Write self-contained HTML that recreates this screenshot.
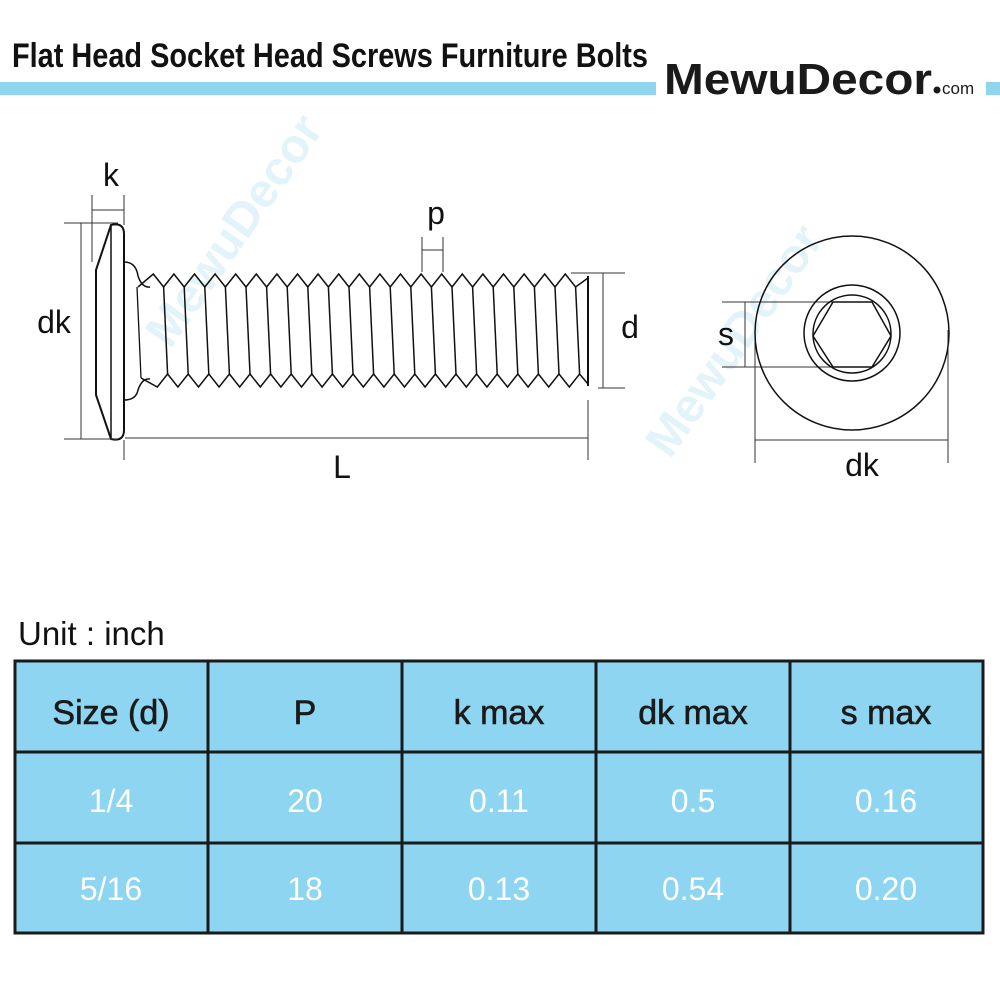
<!DOCTYPE html>
<html><head><meta charset="utf-8"><style>
body{margin:0;background:#fff;}
svg{display:block;}
</style></head><body>
<svg id="s" width="1000" height="1000" viewBox="0 0 1000 1000" xmlns="http://www.w3.org/2000/svg">
<rect width="1000" height="1000" fill="#fff"/>
<rect x="0" y="82" width="656" height="13" fill="#8fd5ef"/>
<rect x="986" y="82" width="14" height="13" fill="#8fd5ef"/>
<text x="12" y="67" font-family="Liberation Sans, sans-serif" font-weight="bold" font-size="34" fill="#111" textLength="636" lengthAdjust="spacingAndGlyphs">Flat Head Socket Head Screws Furniture Bolts</text>
<text x="664" y="94" font-family="Liberation Sans, sans-serif" font-weight="bold" font-size="44" fill="#1a1a1a" textLength="268" lengthAdjust="spacingAndGlyphs">MewuDecor</text>
<circle cx="937" cy="90" r="3.5" fill="#1a1a1a"/>
<text x="942" y="94" font-family="Liberation Sans, sans-serif" font-size="17" fill="#1a1a1a">com</text>

<g font-family="Liberation Sans, sans-serif" font-weight="bold" font-size="48" fill="#e3f3fa">
<text x="170" y="350" transform="rotate(-55 170 350)">MewuDecor</text>
<text x="670" y="460" transform="rotate(-55 670 460)">MewuDecor</text>
</g>

<g fill="none" stroke="#111" stroke-width="1.3">
<path d="M111 225 Q124 222 124 234 L124 430 Q124 442 111 439 L96 395 L96 270 Z" stroke-width="2"/>
<line x1="111" y1="226" x2="111" y2="438" stroke-width="1.5"/>
<path d="M124 262 Q136 262 138 276 Q142 288 150 287" stroke-width="1.5"/>
<path d="M124 400 Q136 400 138 390 Q142 378 150 379" stroke-width="1.5"/>
<line x1="137" y1="287" x2="141" y2="378" stroke-width="1.3"/>
<g id="thr" stroke-width="1.5"></g>
<line x1="588" y1="276" x2="588" y2="386" stroke-width="2"/>
</g>
<g stroke="#333" stroke-width="1" fill="none">
<line x1="64" y1="223" x2="118" y2="223"/>
<line x1="64" y1="439" x2="118" y2="439"/>
<line x1="81" y1="223" x2="81" y2="439"/>
<line x1="92" y1="195" x2="92" y2="262"/>
<line x1="124" y1="195" x2="124" y2="225"/>
<line x1="92" y1="210" x2="124" y2="210"/>
<line x1="422" y1="237" x2="422" y2="272"/>
<line x1="443" y1="237" x2="443" y2="272"/>
<line x1="422" y1="250" x2="443" y2="250"/>
<line x1="571" y1="273" x2="625" y2="273"/>
<line x1="598" y1="388" x2="625" y2="388"/>
<line x1="603" y1="273" x2="603" y2="388"/>
<line x1="125" y1="438" x2="588" y2="438"/>
<line x1="124" y1="440" x2="124" y2="460"/>
<line x1="588" y1="400" x2="588" y2="460"/>
<line x1="722" y1="302" x2="852" y2="302"/>
<line x1="722" y1="367" x2="852" y2="367"/>
<line x1="745" y1="302" x2="745" y2="367"/>
<line x1="755" y1="330" x2="755" y2="463"/>
<line x1="948" y1="330" x2="948" y2="463"/>
<line x1="755" y1="440" x2="948" y2="440"/>
</g>
<g fill="none" stroke="#111" stroke-width="1.5">
<circle cx="852" cy="333" r="97"/>
<circle cx="852" cy="333" r="48"/>
<circle cx="852" cy="334" r="39"/>
<polygon points="813,336 833,302 872,302 891,336 872,367 833,367"/>
</g>
<g font-family="Liberation Sans, sans-serif" font-size="32" fill="#111" text-anchor="middle">
<text x="111" y="186">k</text>
<text x="54" y="333">dk</text>
<text x="436" y="224">p</text>
<text x="630" y="338">d</text>
<text x="342" y="478">L</text>
<text x="726" y="345">s</text>
<text x="862" y="476">dk</text>
</g>
<text x="18" y="645" font-family="Liberation Sans, sans-serif" font-size="33" fill="#111">Unit : inch</text>
<rect x="15" y="661" width="968" height="272" fill="#8dd5f0" stroke="#1a1a1a" stroke-width="3"/>
<g stroke="#1a1a1a" stroke-width="3">
<line x1="15" y1="752" x2="983" y2="752"/>
<line x1="15" y1="843" x2="983" y2="843"/>
<line x1="208" y1="661" x2="208" y2="933"/>
<line x1="402" y1="661" x2="402" y2="933"/>
<line x1="596" y1="661" x2="596" y2="933"/>
<line x1="790" y1="661" x2="790" y2="933"/>
</g>
<g font-family="Liberation Sans, sans-serif" font-size="34" text-anchor="middle" fill="#1a1a1a" stroke="#1a1a1a" stroke-width="0.6">
<text x="111" y="724">Size (d)</text>
<text x="305" y="724">P</text>
<text x="499" y="724">k max</text>
<text x="693" y="724">dk max</text>
<text x="886" y="724">s max</text>
</g>
<g font-family="Liberation Sans, sans-serif" font-size="32" text-anchor="middle" fill="#fff">
<text x="111" y="812">1/4</text>
<text x="305" y="812">20</text>
<text x="499" y="812">0.11</text>
<text x="693" y="812">0.5</text>
<text x="886" y="812">0.16</text>
<text x="111" y="900">5/16</text>
<text x="305" y="900">18</text>
<text x="499" y="900">0.13</text>
<text x="693" y="900">0.54</text>
<text x="886" y="900">0.20</text>
</g>
</svg>
<script>
(function(){
var g=document.getElementById('thr');var p=20.6,x0=143;var top='M138 287',bot='M141 378',lines='';
for(var i=0;i<21;i++){var x=x0+i*p;
top+=' L'+(x+p/2)+' 274 L'+(x+p)+' 287';
bot+=' L'+(x+p/2+4)+' 387 L'+(x+p+4)+' 374';
lines+='<line x1="'+(x+p)+'" y1="287" x2="'+(x+p+4)+'" y2="374"/>';}
top+=' L588 278';bot+=' L588 384';
g.innerHTML='<path d="'+top+'"/><path d="'+bot+'"/>'+lines;
})();
</script>
</body></html>
